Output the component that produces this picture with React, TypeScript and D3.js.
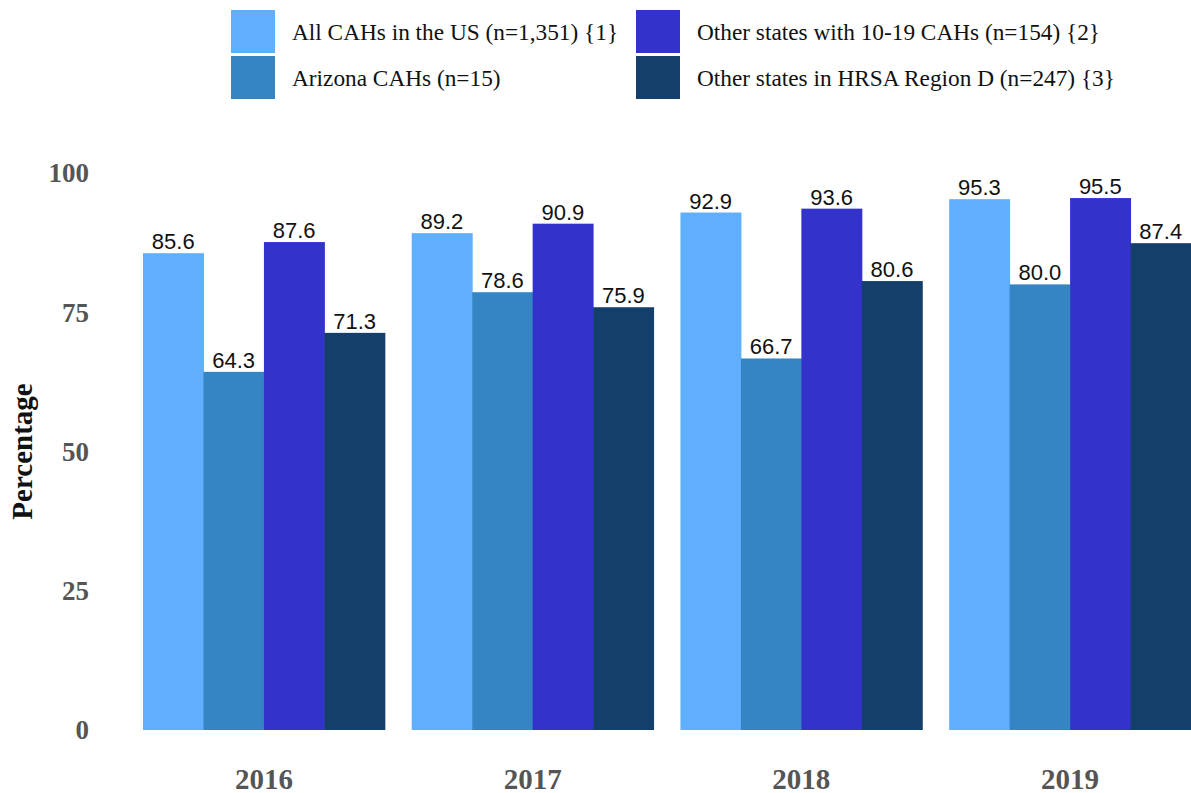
import React, { useRef, useEffect } from 'react';
import * as d3 from 'd3';

const years = ['2016', '2017', '2018', '2019'];
const seriesNames = [
  'All CAHs in the US (n=1,351) {1}',
  'Arizona CAHs (n=15)',
  'Other states with 10-19 CAHs (n=154) {2}',
  'Other states in HRSA Region D (n=247) {3}',
];
const allUS = [85.6, 89.2, 92.9, 95.3];
const arizona = [64.3, 78.6, 66.7, 80.0];
const otherStates = [87.6, 90.9, 93.6, 95.5];
const regionD = [71.3, 75.9, 80.6, 87.4];
const yTicks = [0, 25, 50, 75, 100];
const colors = ['#60aefe', '#3585c5', '#3333cc', '#153f6b'];

function App() {
  const svgRef = useRef(null);

  useEffect(() => {
    const w = 1191;
    const h = 793;
    const series = [allUS, arizona, otherStates, regionD];
    const svg = d3.select(svgRef.current).attr('width', w).attr('height', h);
    svg.selectAll('*').remove();

    const x0 = d3.scaleBand().domain(years).range([143, 1191]).paddingInner(0.1).paddingOuter(0);
    const x1 = d3
      .scaleBand()
      .domain(d3.range(series.length).map(String))
      .range([0, x0.bandwidth()]);
    const y = d3.scaleLinear().domain([0, 100]).range([730, 173]);

    // legend
    const legend = svg.append('g');
    const legendPos = [
      [231, 10],
      [231, 56],
      [636, 10],
      [636, 56],
    ];
    seriesNames.forEach((name, i) => {
      const [lx, ly] = legendPos[i];
      legend.append('rect').attr('x', lx).attr('y', ly).attr('width', 44).attr('height', 43).attr('fill', colors[i]);
      legend
        .append('text')
        .attr('x', lx + 61)
        .attr('y', ly + 22)
        .attr('dy', '0.35em')
        .attr('font-family', 'Liberation Serif, serif')
        .attr('font-size', 23.3)
        .attr('fill', '#111')
        .text(name);
    });

    // y axis
    svg
      .append('g')
      .selectAll('text')
      .data(yTicks)
      .join('text')
      .attr('x', 89)
      .attr('y', (d) => y(d))
      .attr('dy', '0.35em')
      .attr('text-anchor', 'end')
      .attr('font-family', 'Liberation Serif, serif')
      .attr('font-weight', 'bold')
      .attr('font-size', 27)
      .attr('fill', '#555')
      .text((d) => d);

    svg
      .append('text')
      .attr('transform', `translate(32, ${y(50)}) rotate(-90)`)
      .attr('text-anchor', 'middle')
      .attr('font-family', 'Liberation Serif, serif')
      .attr('font-weight', 'bold')
      .attr('font-size', 29)
      .attr('fill', '#111')
      .text('Percentage');

    // x labels
    svg
      .append('g')
      .selectAll('text')
      .data(years)
      .join('text')
      .attr('x', (d) => x0(d) + x0.bandwidth() / 2)
      .attr('y', 789)
      .attr('text-anchor', 'middle')
      .attr('font-family', 'Liberation Serif, serif')
      .attr('font-weight', 'bold')
      .attr('font-size', 29)
      .attr('fill', '#555')
      .text((d) => d);

    // bars
    const groups = svg
      .append('g')
      .selectAll('g')
      .data(years)
      .join('g')
      .attr('transform', (d) => `translate(${x0(d)},0)`);

    groups
      .selectAll('rect')
      .data((d, i) => series.map((s, k) => ({ k, v: s[i] })))
      .join('rect')
      .attr('x', (d) => x1(String(d.k)))
      .attr('y', (d) => y(d.v))
      .attr('width', x1.bandwidth() + 0.5)
      .attr('height', (d) => y(0) - y(d.v))
      .attr('fill', (d) => colors[d.k]);

    groups
      .selectAll('text')
      .data((d, i) => series.map((s, k) => ({ k, v: s[i] })))
      .join('text')
      .attr('x', (d) => x1(String(d.k)) + x1.bandwidth() / 2)
      .attr('y', (d) => y(d.v) - 4)
      .attr('text-anchor', 'middle')
      .attr('font-family', 'Liberation Sans, Arial, sans-serif')
      .attr('font-size', 22)
      .attr('fill', '#111')
      .text((d) => d.v.toFixed(1));
  }, []);

  return <svg ref={svgRef} style={{ display: 'block', position: 'absolute', left: 0, top: 0 }}></svg>;
}

export default App;
